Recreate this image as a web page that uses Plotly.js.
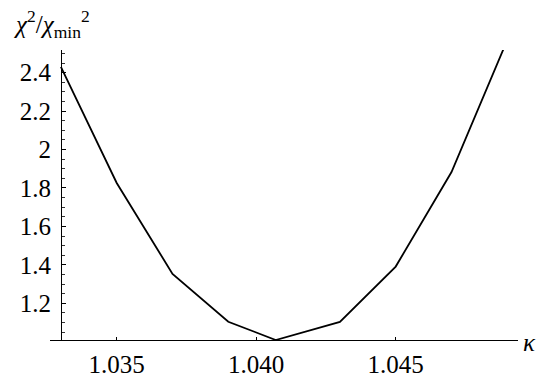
<!DOCTYPE html>
<html>
<head>
<meta charset="utf-8">
<script src="https://cdn.plot.ly/plotly-3.0.1.min.js"></script>
<style>html,body{margin:0;padding:0;background:#fff;}#chart{width:544px;height:383px;}</style>
</head>
<body>
<div id="chart"></div>
<script>
// Data
const kappa = [1.033, 1.035, 1.037, 1.039, 1.0407, 1.043, 1.045, 1.047, 1.049];
const chiRatio = [2.43, 1.826, 1.353, 1.104, 1.009, 1.103, 1.391, 1.883, 2.57];
const xTickVals = [1.035, 1.040, 1.045];
const xTickText = ['1.035', '1.040', '1.045'];
const yTickVals = [1.2, 1.4, 1.6, 1.8, 2.0, 2.2, 2.4];
const yTickText = ['1.2', '1.4', '1.6', '1.8', '2', '2.2', '2.4'];

const W = 544, H = 383;
const margin = {l: 50, r: 26, t: 50, b: 43};
const plotW = W - margin.l - margin.r;
const plotH = H - margin.t - margin.b;
const xRange = [1.032609, 1.032609 + plotW / 27900];
const yRange = [1.009, 1.009 + plotH / 192.2];
const yAxisPos = (1.033 - xRange[0]) / (xRange[1] - xRange[0]);

const FAM = 'Liberation Serif';
const tickFont = {family: FAM, size: 25, color: '#000'};

const trace = {
  x: kappa, y: chiRatio, type: 'scatter', mode: 'lines',
  line: {color: '#000', width: 1.8}, hoverinfo: 'skip'
};

const layout = {
  width: W, height: H, margin: margin,
  paper_bgcolor: '#fff', plot_bgcolor: '#fff',
  showlegend: false, font: {family: FAM, size: 25, color: '#000'},
  xaxis: {
    range: xRange, showgrid: false, zeroline: false,
    showline: true, linecolor: '#000', linewidth: 1.2,
    tickvals: xTickVals, ticktext: xTickText,
    ticks: 'inside', ticklen: 3, tickcolor: '#000', tickwidth: 1,
    tickfont: tickFont, ticklabelstandoff: 2
  },
  yaxis: {
    range: yRange, showgrid: false, zeroline: false,
    anchor: 'free', position: yAxisPos,
    showline: true, linecolor: '#000', linewidth: 1.2,
    tickvals: yTickVals, ticktext: yTickText,
    ticks: 'inside', ticklen: 4, tickcolor: '#000', tickwidth: 1,
    minor: {dtick: 0.05, tick0: 1.0, ticks: 'inside', ticklen: 2.5, tickcolor: '#000', tickwidth: 0.8},
    tickfont: tickFont, ticklabelstandoff: 5
  },
  annotations: [
    {
      xref: 'paper', yref: 'paper',
      x: (12 - margin.l) / plotW, y: 1 + (margin.t - 24) / plotH,
      xanchor: 'left', yanchor: 'middle', showarrow: false,
      text: '<i>χ</i><sup>2</sup>/<i>χ</i><sub>min</sub><sup>2</sup>',
      font: {family: FAM, size: 25, color: '#000'}
    },
    {
      xref: 'paper', yref: 'paper',
      x: (529 - margin.l) / plotW, y: -(342 - (margin.t + plotH)) / plotH,
      xanchor: 'center', yanchor: 'middle', showarrow: false,
      text: '<i>κ</i>',
      font: {family: FAM, size: 25, color: '#000'}
    }
  ]
};

Plotly.newPlot('chart', [trace], layout, {staticPlot: true, displayModeBar: false});
</script>
</body>
</html>
